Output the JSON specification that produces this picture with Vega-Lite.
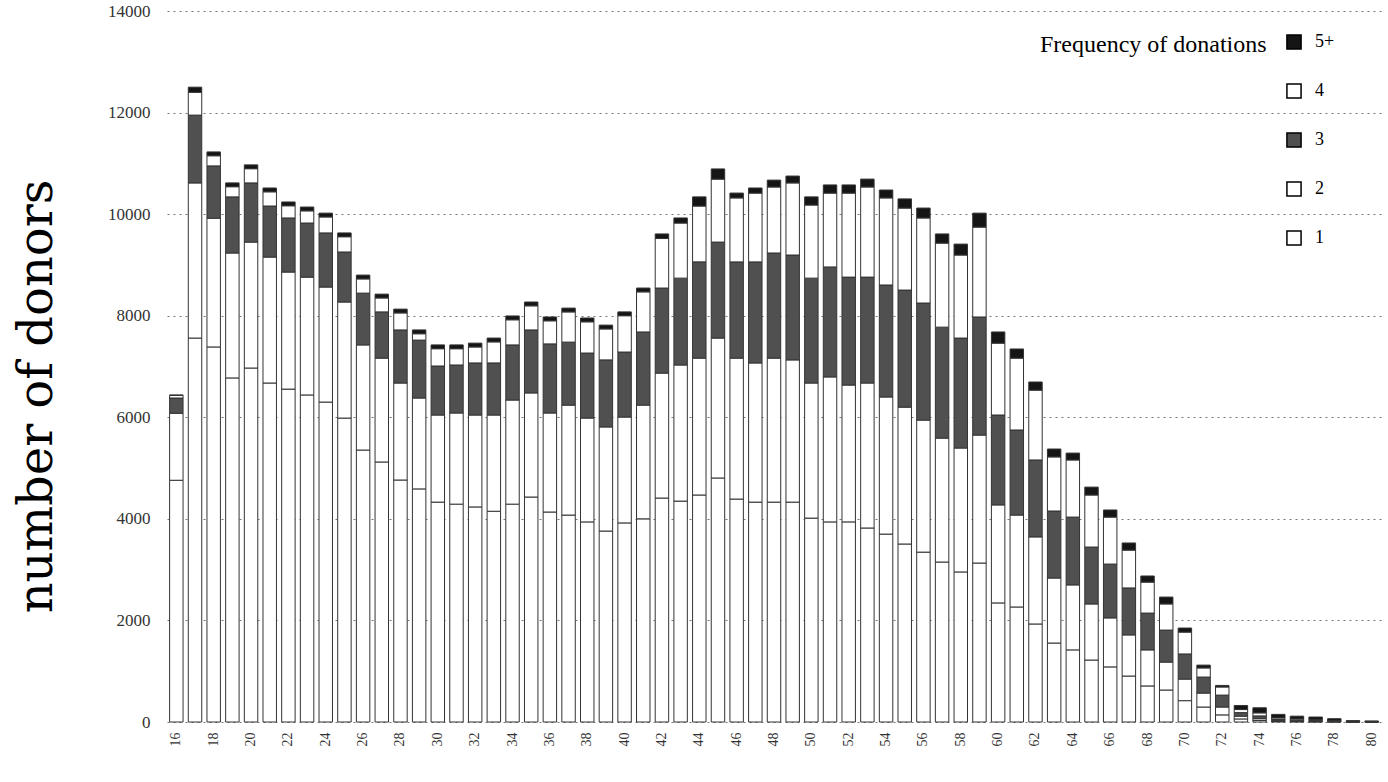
{
  "$schema": "https://vega.github.io/schema/vega-lite/v6.json",
  "width": 1214,
  "height": 711,
  "autosize": {"type": "none"},
  "padding": {"left": 167, "top": 11, "right": 7, "bottom": 60},
  "background": "white",
  "data": {"values": [
    {"age": 16, "1": 4760, "2": 1320, "3": 300, "4": 50, "5+": 10},
    {"age": 17, "1": 7560, "2": 3055, "3": 1335, "4": 450, "5+": 100},
    {"age": 18, "1": 7385, "2": 2535, "3": 1030, "4": 200, "5+": 75},
    {"age": 19, "1": 6775, "2": 2460, "3": 1105, "4": 200, "5+": 75},
    {"age": 20, "1": 6970, "2": 2480, "3": 1165, "4": 280, "5+": 75},
    {"age": 21, "1": 6675, "2": 2480, "3": 1005, "4": 280, "5+": 75},
    {"age": 22, "1": 6555, "2": 2305, "3": 1065, "4": 240, "5+": 75},
    {"age": 23, "1": 6440, "2": 2320, "3": 1065, "4": 240, "5+": 75},
    {"age": 24, "1": 6300, "2": 2265, "3": 1065, "4": 315, "5+": 75},
    {"age": 25, "1": 5985, "2": 2285, "3": 985, "4": 300, "5+": 75},
    {"age": 26, "1": 5355, "2": 2070, "3": 1020, "4": 280, "5+": 75},
    {"age": 27, "1": 5120, "2": 2045, "3": 910, "4": 275, "5+": 75},
    {"age": 28, "1": 4765, "2": 1910, "3": 1045, "4": 335, "5+": 75},
    {"age": 29, "1": 4590, "2": 1790, "3": 1140, "4": 125, "5+": 75},
    {"age": 30, "1": 4330, "2": 1715, "3": 965, "4": 340, "5+": 75},
    {"age": 31, "1": 4290, "2": 1795, "3": 945, "4": 320, "5+": 75},
    {"age": 32, "1": 4235, "2": 1810, "3": 1025, "4": 315, "5+": 75},
    {"age": 33, "1": 4150, "2": 1895, "3": 1025, "4": 415, "5+": 75},
    {"age": 34, "1": 4290, "2": 2050, "3": 1085, "4": 495, "5+": 75},
    {"age": 35, "1": 4430, "2": 2050, "3": 1240, "4": 475, "5+": 75},
    {"age": 36, "1": 4135, "2": 1950, "3": 1360, "4": 455, "5+": 75},
    {"age": 37, "1": 4075, "2": 2165, "3": 1240, "4": 595, "5+": 75},
    {"age": 38, "1": 3940, "2": 2045, "3": 1280, "4": 615, "5+": 75},
    {"age": 39, "1": 3760, "2": 2050, "3": 1320, "4": 610, "5+": 75},
    {"age": 40, "1": 3920, "2": 2085, "3": 1280, "4": 715, "5+": 75},
    {"age": 41, "1": 4000, "2": 2240, "3": 1440, "4": 790, "5+": 75},
    {"age": 42, "1": 4410, "2": 2460, "3": 1675, "4": 975, "5+": 90},
    {"age": 43, "1": 4350, "2": 2680, "3": 1710, "4": 1085, "5+": 100},
    {"age": 44, "1": 4470, "2": 2695, "3": 1895, "4": 1100, "5+": 180},
    {"age": 45, "1": 4805, "2": 2755, "3": 1890, "4": 1240, "5+": 200},
    {"age": 46, "1": 4390, "2": 2775, "3": 1895, "4": 1260, "5+": 95},
    {"age": 47, "1": 4330, "2": 2740, "3": 1990, "4": 1355, "5+": 100},
    {"age": 48, "1": 4330, "2": 2835, "3": 2070, "4": 1300, "5+": 135},
    {"age": 49, "1": 4330, "2": 2800, "3": 2065, "4": 1420, "5+": 135},
    {"age": 50, "1": 4015, "2": 2660, "3": 2065, "4": 1440, "5+": 160},
    {"age": 51, "1": 3940, "2": 2855, "3": 2165, "4": 1455, "5+": 160},
    {"age": 52, "1": 3940, "2": 2695, "3": 2125, "4": 1655, "5+": 160},
    {"age": 53, "1": 3820, "2": 2855, "3": 2085, "4": 1775, "5+": 155},
    {"age": 54, "1": 3700, "2": 2700, "3": 2205, "4": 1715, "5+": 155},
    {"age": 55, "1": 3505, "2": 2695, "3": 2305, "4": 1615, "5+": 180},
    {"age": 56, "1": 3345, "2": 2600, "3": 2305, "4": 1675, "5+": 195},
    {"age": 57, "1": 3150, "2": 2440, "3": 2185, "4": 1655, "5+": 180},
    {"age": 58, "1": 2955, "2": 2440, "3": 2165, "4": 1635, "5+": 215},
    {"age": 59, "1": 3130, "2": 2520, "3": 2325, "4": 1770, "5+": 275},
    {"age": 60, "1": 2345, "2": 1930, "3": 1770, "4": 1415, "5+": 220},
    {"age": 61, "1": 2265, "2": 1810, "3": 1675, "4": 1415, "5+": 180},
    {"age": 62, "1": 1930, "2": 1715, "3": 1515, "4": 1375, "5+": 160},
    {"age": 63, "1": 1555, "2": 1280, "3": 1320, "4": 1065, "5+": 155},
    {"age": 64, "1": 1420, "2": 1280, "3": 1335, "4": 1125, "5+": 135},
    {"age": 65, "1": 1220, "2": 1105, "3": 1120, "4": 1025, "5+": 155},
    {"age": 66, "1": 1085, "2": 965, "3": 1060, "4": 925, "5+": 140},
    {"age": 67, "1": 905, "2": 810, "3": 925, "4": 745, "5+": 140},
    {"age": 68, "1": 710, "2": 710, "3": 725, "4": 610, "5+": 120},
    {"age": 69, "1": 630, "2": 550, "3": 630, "4": 515, "5+": 135},
    {"age": 70, "1": 420, "2": 425, "3": 495, "4": 430, "5+": 80},
    {"age": 71, "1": 295, "2": 275, "3": 315, "4": 180, "5+": 55},
    {"age": 72, "1": 140, "2": 155, "3": 235, "4": 160, "5+": 30},
    {"age": 73, "1": 60, "2": 55, "3": 70, "4": 60, "5+": 80},
    {"age": 74, "1": 30, "2": 35, "3": 55, "4": 60, "5+": 100},
    {"age": 75, "1": 10, "2": 15, "3": 25, "4": 30, "5+": 70},
    {"age": 76, "1": 8, "2": 10, "3": 20, "4": 22, "5+": 55},
    {"age": 77, "1": 5, "2": 8, "3": 15, "4": 20, "5+": 50},
    {"age": 78, "1": 3, "2": 5, "3": 10, "4": 12, "5+": 35},
    {"age": 79, "1": 1, "2": 2, "3": 4, "4": 5, "5+": 15},
    {"age": 80, "1": 1, "2": 1, "3": 3, "4": 4, "5+": 12}
  ]},
  "transform": [{"fold": ["1", "2", "3", "4", "5+"], "as": ["freq", "donors"]}],
  "mark": {"type": "bar", "stroke": "#333333", "strokeWidth": 1},
  "encoding": {
    "x": {
      "field": "age",
      "type": "ordinal",
      "scale": {"paddingInner": 0.28, "paddingOuter": 0.14},
      "axis": {
        "title": null,
        "values": [16,18,20,22,24,26,28,30,32,34,36,38,40,42,44,46,48,50,52,54,56,58,60,62,64,66,68,70,72,74,76,78,80],
        "labelAngle": -90,
        "labelFont": "Liberation Serif",
        "labelFontSize": 14,
        "labelColor": "#333333",
        "labelPadding": 10,
        "ticks": false,
        "domain": false
      }
    },
    "y": {
      "field": "donors",
      "type": "quantitative",
      "stack": "zero",
      "scale": {"domain": [0, 14000], "nice": false},
      "axis": {
        "title": "number of donors",
        "titleFont": "DejaVu Serif",
        "titleFontSize": 48,
        "titleFontWeight": "normal",
        "titleColor": "#000000",
        "titleX": -130,
        "titleY": 385,
        "titleBaseline": "middle",
        "titleAlign": "center",
        "values": [0, 2000, 4000, 6000, 8000, 10000, 12000, 14000],
        "format": "d",
        "labelFont": "Liberation Serif",
        "labelFontSize": 17,
        "labelColor": "#333333",
        "labelPadding": 17,
        "ticks": false,
        "domain": false,
        "grid": true,
        "gridDash": [2, 4],
        "gridColor": "#777777",
        "gridWidth": 1
      }
    },
    "color": {
      "field": "freq",
      "type": "nominal",
      "scale": {"domain": ["5+", "4", "3", "2", "1"], "range": ["#151515", "#ffffff", "#505050", "#ffffff", "#ffffff"]},
      "legend": {
        "title": "Frequency of donations",
        "orient": "none",
        "legendX": 873,
        "legendY": 22,
        "titleOrient": "left",
        "titleAnchor": "start",
        "titleBaseline": "top",
        "titleLimit": 500,
        "titleFont": "Liberation Serif",
        "titleFontSize": 24,
        "titleFontWeight": "normal",
        "titleColor": "#000000",
        "titlePadding": 18,
        "labelFont": "Liberation Serif",
        "labelFontSize": 18,
        "labelColor": "#000000",
        "labelOffset": 12,
        "symbolType": "square",
        "symbolSize": 200,
        "symbolStrokeColor": "#000000",
        "symbolStrokeWidth": 1.5,
        "rowPadding": 27
      }
    },
    "order": {"field": "freq", "sort": "ascending"}
  },
  "config": {"view": {"stroke": null}, "font": "Liberation Serif"}
}
